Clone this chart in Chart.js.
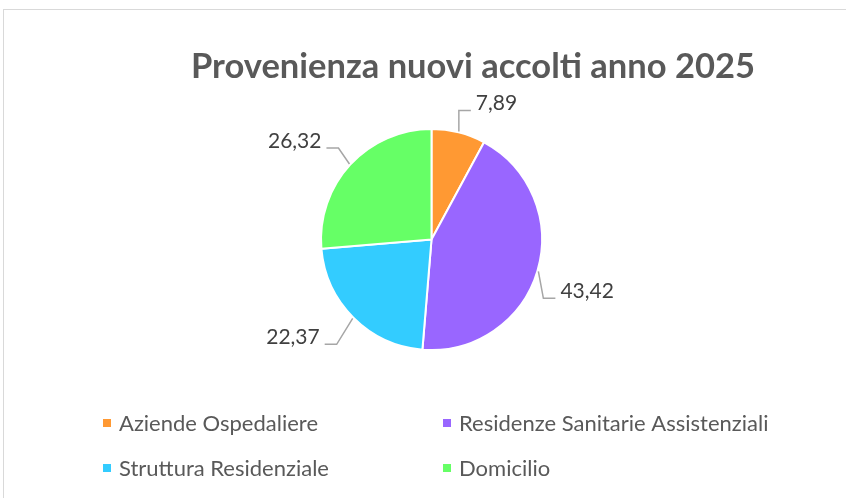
<!DOCTYPE html>
<html>
<head>
<meta charset="utf-8">
<script src="https://cdn.jsdelivr.net/npm/chart.js@4.4.1/dist/chart.umd.min.js"></script>
<style>
  html, body { margin: 0; padding: 0; background: #fff; }
  #wrap { position: relative; width: 846px; height: 498px; overflow: hidden; }
  #frame { position: absolute; left: 3px; top: 9px; width: 900px; height: 600px;
           border-top: 1px solid #d9d9d9; border-left: 1px solid #d9d9d9; }
  #pie { position: absolute; left: 0; top: 0; }
</style>
</head>
<body>
<div id="wrap">
  <div id="frame"></div>
  <canvas id="pie" width="846" height="498"></canvas>
</div>
<script>
const title = "Provenienza nuovi accolti anno 2025";
const categories = ["Aziende Ospedaliere", "Residenze Sanitarie Assistenziali", "Struttura Residenziale", "Domicilio"];
const values = [7.89, 43.42, 22.37, 26.32];
const colors = ["#FF9933", "#9966FF", "#33CCFF", "#66FF66"];

// elbow of each leader line, relative to the slice edge
const leaderOffsets = [[0, -21], [5, 27], [-16, 26], [-11, -16]];

const FONT = "Lato, 'Open Sans', sans-serif";

function fmt(v) {
  return v.toFixed(2).replace(".", ",");
}

const labelPlugin = {
  id: "leaderLabels",
  afterDatasetsDraw(chart) {
    const ctx = chart.ctx;
    const meta = chart.getDatasetMeta(0);
    ctx.save();
    ctx.font = "21px " + FONT;
    meta.data.forEach((arc, i) => {
      const { x, y, startAngle, endAngle, outerRadius } = arc.getProps(["x", "y", "startAngle", "endAngle", "outerRadius"], true);
      const mid = (startAngle + endAngle) / 2;
      const ex = x + Math.cos(mid) * (outerRadius + 1);
      const ey = y + Math.sin(mid) * (outerRadius + 1);
      const [dx, dy] = leaderOffsets[i];
      const bx = ex + dx, by = ey + dy;
      const right = Math.cos(mid) >= 0;
      const hx = bx + (right ? 12 : -12);
      ctx.strokeStyle = "#a6a6a6";
      ctx.lineWidth = 1.5;
      ctx.beginPath();
      ctx.moveTo(ex, ey);
      ctx.lineTo(bx, by);
      ctx.lineTo(hx, by);
      ctx.stroke();
      ctx.fillStyle = "#404040";
      ctx.textBaseline = "alphabetic";
      ctx.textAlign = right ? "left" : "right";
      ctx.fillText(fmt(values[i]), hx + (right ? 5 : -5), by);
    });
    ctx.restore();
  }
};

const decorPlugin = {
  id: "decor",
  afterDraw(chart) {
    const ctx = chart.ctx;
    ctx.save();
    // title
    ctx.font = "bold 34.5px " + FONT;
    ctx.fillStyle = "#595959";
    ctx.textAlign = "center";
    ctx.textBaseline = "alphabetic";
    ctx.fillText(title, 473, 78);
    // legend, two columns
    ctx.font = "22px " + FONT;
    ctx.textAlign = "left";
    const colX = [103, 443];
    const rowY = [419, 464];
    categories.forEach((c, i) => {
      const cx = colX[i % 2], cy = rowY[Math.floor(i / 2)];
      ctx.fillStyle = colors[i];
      ctx.fillRect(cx, cy, 8, 8);
      ctx.fillStyle = "#595959";
      ctx.fillText(c, cx + 16, cy + 12);
    });
    ctx.restore();
  }
};

new Chart(document.getElementById("pie"), {
  type: "pie",
  data: {
    labels: categories,
    datasets: [{
      data: values,
      backgroundColor: colors,
      borderColor: "#ffffff",
      borderWidth: 2
    }]
  },
  options: {
    responsive: false,
    animation: false,
    layout: { padding: { left: 320, right: 303, top: 128, bottom: 147 } },
    plugins: {
      legend: { display: false },
      tooltip: { enabled: false },
      title: { display: false }
    }
  },
  plugins: [labelPlugin, decorPlugin]
});
</script>
</body>
</html>
